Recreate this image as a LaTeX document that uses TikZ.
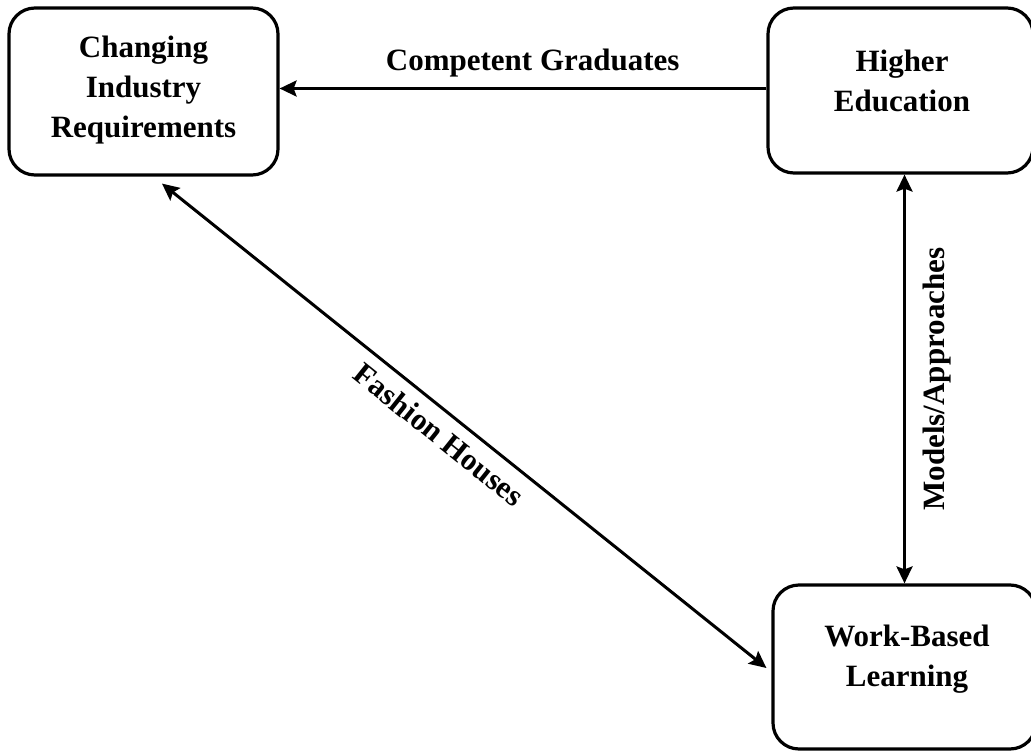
\documentclass[tikz,border=0pt]{standalone}
\usepackage{fontspec}
\setmainfont{Liberation Serif}
\usetikzlibrary{arrows.meta,calc}
\begin{document}
\begin{tikzpicture}[x=1pt,y=-1pt,
  box/.style={draw=black, line width=3.2pt, rounded corners=26pt, rectangle, inner sep=0pt},
  lbl/.style={font=\bfseries\fontsize{31}{40}\selectfont, align=center, inner sep=0pt},
  conn/.style={line width=3pt, draw=black},
  elabel/.style={font=\bfseries\fontsize{31}{37}\selectfont, inner sep=0pt}
]
\fill[white] (0,0) rectangle (1031,752);
\useasboundingbox (0,0) rectangle (1031,752);

\node[box, minimum width=269pt, minimum height=167pt] (TL) at (143.5,91.5) {};
\node[box, minimum width=265pt, minimum height=165pt] (TR) at (900.5,90.5) {};
\node[box, minimum width=263pt, minimum height=164pt] (BR) at (904.5,667) {};

\node[lbl] (tTL) at (143.5,90) {Changing\\Industry\\Requirements};
\node[lbl] (tTR) at (902,80.5) {Higher\\Education};
\node[lbl] (tBR) at (907,659) {Work-Based\\Learning};

\draw[conn, -{Stealth[length=17pt,width=16pt,inset=3pt]}] ($(TR.west)+(0,-2)$) -- ($(TR.west -| TL.east)+(0,-2)$)
  node[elabel, pos=0.48, above=10pt] (lCG) {Competent Graduates};

\draw[conn, {Stealth[length=17pt,width=16pt,inset=3pt]}-{Stealth[length=17pt,width=16pt,inset=3pt]}] (BR.north) -- (BR.north |- TR.south)
  node[elabel, midway, sloped, below=17pt] (lMA) {Models/Approaches};

\draw[conn, {Stealth[length=17pt,width=16pt,inset=3pt]}-{Stealth[length=17pt,width=16pt,inset=3pt]}] ($(TL.south)+(18.5,7)$) -- ($(BR.west)+(-5,1)$)
  node[elabel, pos=0.482, sloped, below=10pt] (lFH) {Fashion Houses};
\end{tikzpicture}
\end{document}
